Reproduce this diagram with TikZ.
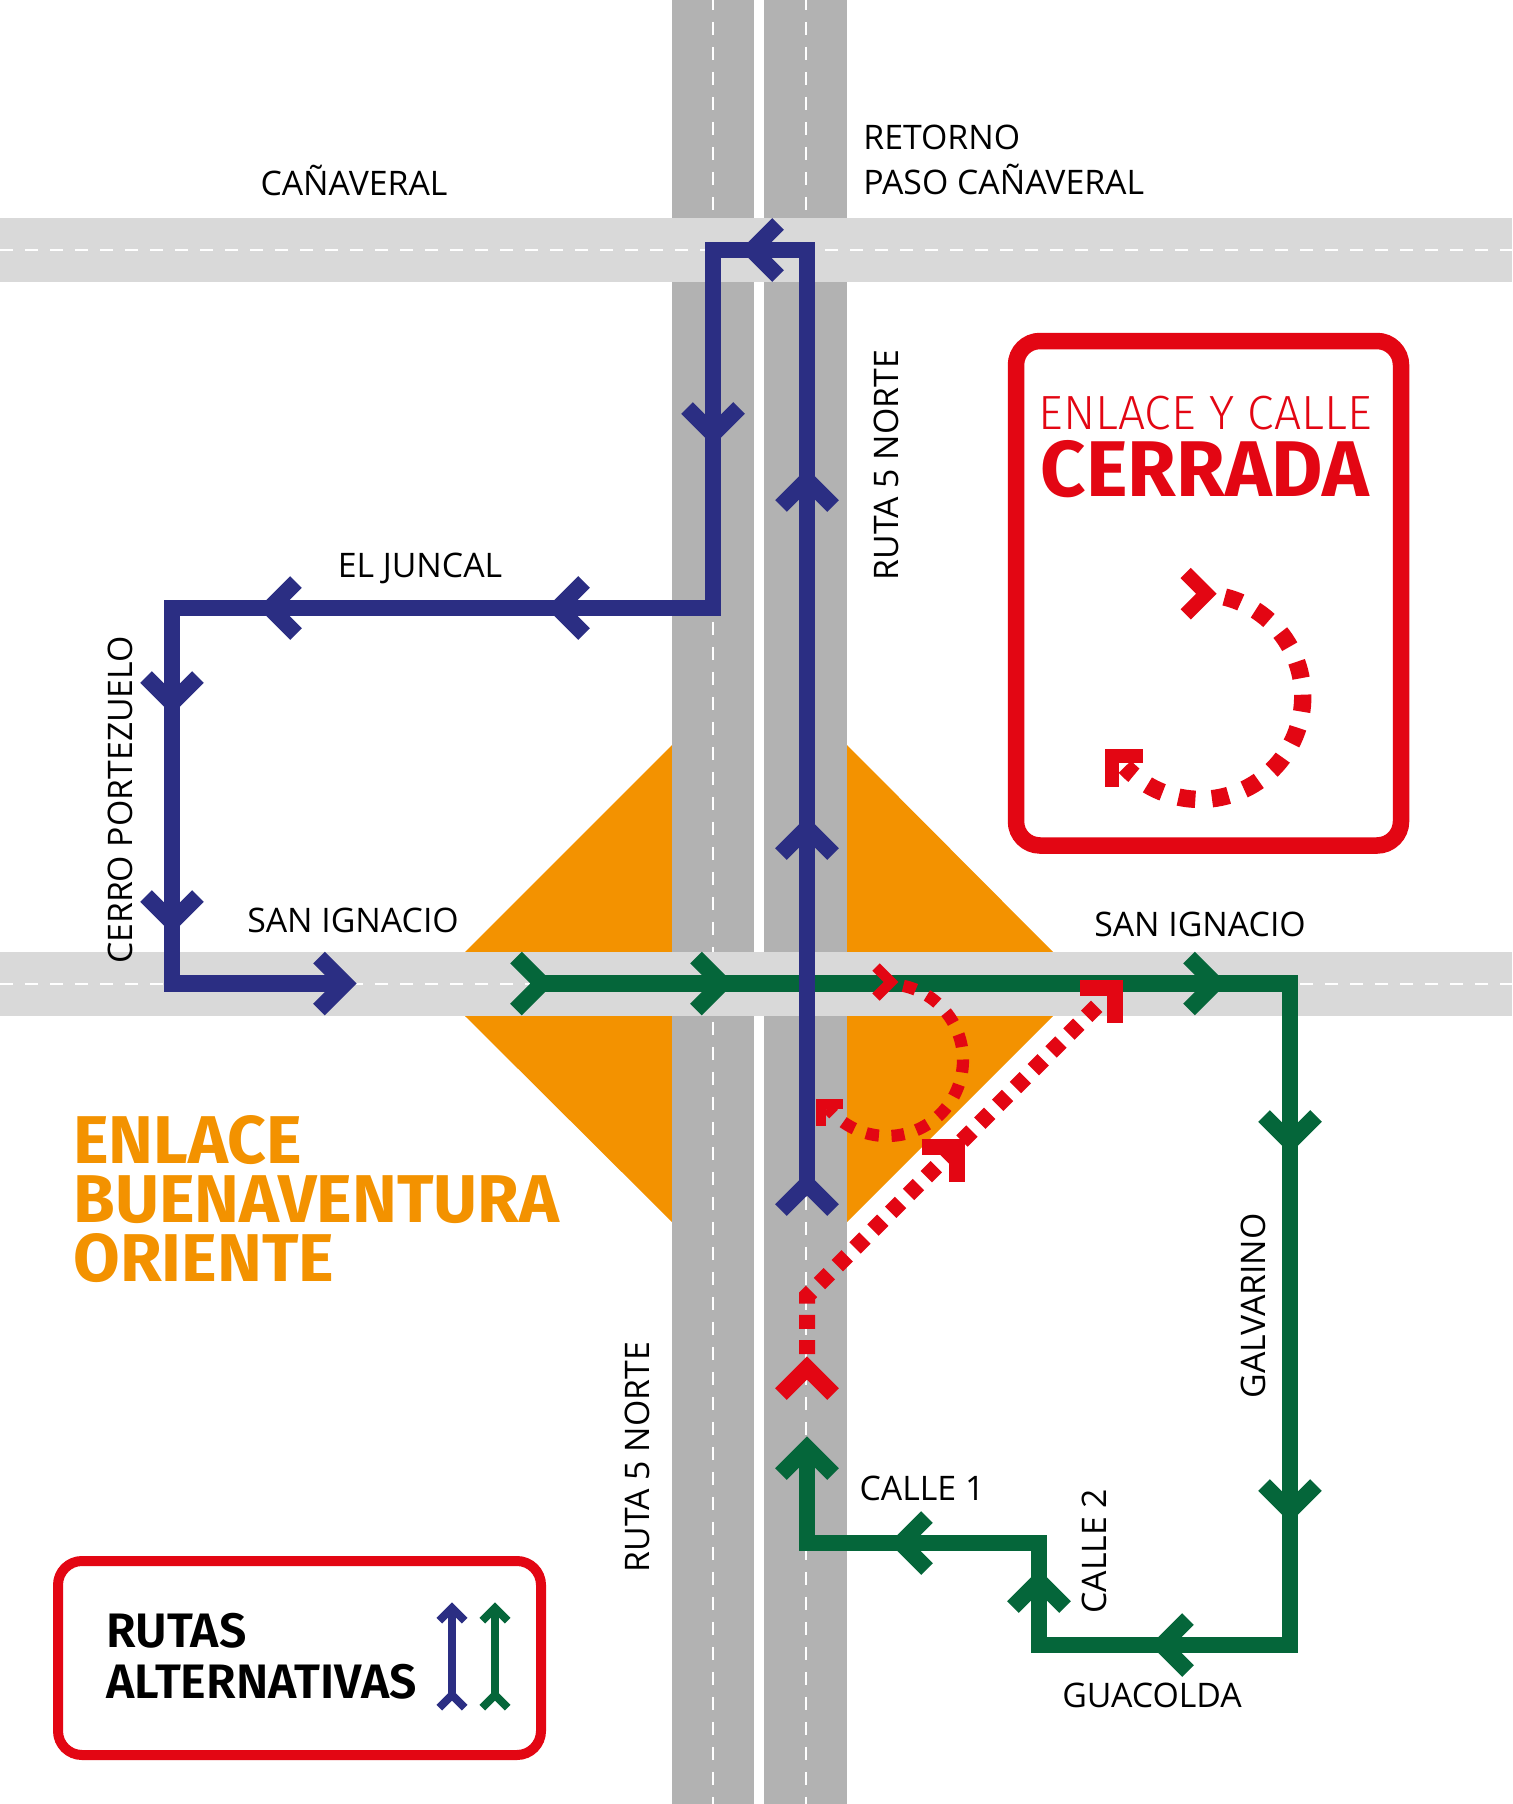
\documentclass[tikz,border=0pt]{standalone}
\usepackage{fontspec}
\setmainfont{Open Sans}
\newfontfamily\firabold{Fira Sans Bold}
\newfontfamily\firasemi{Fira Sans SemiBold}
\newfontfamily\firalight{Fira Sans Light}
\usetikzlibrary{positioning,calc}
\definecolor{roaddark}{HTML}{B2B2B2}
\definecolor{roadlight}{HTML}{D9D9D9}
\definecolor{linkorange}{HTML}{F39200}
\definecolor{routeblue}{HTML}{2B2E83}
\definecolor{routegreen}{HTML}{05663A}
\definecolor{closedred}{HTML}{E30613}
\tikzstyle{ROAD_MARK} = [draw=white, line width=1pt, dash pattern=on 6.5pt off 6pt]
\tikzstyle{ROUTE_BLUE} = [draw=routeblue, line width=8.25pt]
\tikzstyle{ROUTE_GREEN} = [draw=routegreen, line width=8.25pt]
\tikzstyle{ROUTE_RED} = [draw=closedred, line width=8pt, dash pattern=on 7pt off 5.6pt]
\tikzstyle{ARC_SMALL} = [draw=closedred, line width=6.1pt, dash pattern=on 6.5pt off 6.3pt]
\tikzstyle{ARC_BIG} = [draw=closedred, line width=8.7pt, dash pattern=on 8.5pt off 8.3pt]
\tikzstyle{TIP_BLUE} = [color=routeblue, line width=8.25pt]
\tikzstyle{TIP_GREEN} = [color=routegreen, line width=8.25pt]
\tikzstyle{TIP_RED} = [color=closedred, line width=8.25pt]
\tikzstyle{LABEL} = [inner sep=0pt, align=left, text=black, font=\fontsize{16.9}{22.5}\selectfont]
\tikzstyle{FRAME} = [draw=closedred, fill=white, rounded corners=12pt]
\tikzset{CHEV/.pic={\draw (-#1,-#1) -- (0,0) -- (-#1,#1);}}
\begin{document}
\begin{tikzpicture}[x=0.5pt, y=-0.5pt]
\useasboundingbox (0,0) rectangle (1512,1804);
% Roads
\fill [linkorange] (465,952) -- (672,745) -- (672,1222) -- (465,1016) -- cycle;
\fill [linkorange] (1053,952) -- (847,745) -- (847,1222) -- (1053,1016) -- cycle;
\fill [roaddark] (672,0) rectangle (754,1804);
\fill [roaddark] (764,0) rectangle (847,1804);
\draw [ROAD_MARK, dash phase=1.6pt] (712.5,0) -- (712.5,1804);
\draw [ROAD_MARK, dash phase=1.6pt] (805.5,0) -- (805.5,1804);
\fill [roadlight] (0,218) rectangle (1512,282);
\fill [roadlight] (0,952) rectangle (1512,1016);
\draw [ROAD_MARK] (0,250) -- (1512,250);
\draw [ROAD_MARK] (0,984) -- (1512,984);
% Place nodes
\node [LABEL] (canaveral) at (354,180) {CAÑAVERAL};
\node [LABEL, anchor=west] (retorno) at (863,160) {RETORNO\\PASO CAÑAVERAL};
\node [LABEL, rotate=90] (ruta_n) at (886,465) {RUTA 5 NORTE};
\node [LABEL] (juncal) at (420,568) {EL JUNCAL};
\node [LABEL, rotate=90] (cerro) at (120,800) {CERRO PORTEZUELO};
\node [LABEL] (ignacio_w) at (353,920) {SAN IGNACIO};
\node [LABEL] (ignacio_e) at (1200,924) {SAN IGNACIO};
\node [LABEL, rotate=90] (galvarino) at (1253,1306) {GALVARINO};
\node [LABEL, rotate=90] (ruta_s) at (637,1457) {RUTA 5 NORTE};
\node [LABEL] (calle1) at (922,1488) {CALLE 1};
\node [LABEL, rotate=90] (calle2) at (1094,1551) {CALLE 2};
\node [LABEL] (guacolda) at (1152,1695) {GUACOLDA};
\node [inner sep=0pt, anchor=west, align=left, text=linkorange, font=\firabold\fontsize{33.8}{29.7}\selectfont] (enlace) at (73,1199) {ENLACE\\BUENAVENTURA\\ORIENTE};
% Route points
\coordinate (b0) at (807,1184);
\coordinate (b1) at (807,250);
\coordinate (b2) at (713,250);
\coordinate (b3) at (713,608);
\coordinate (b4) at (172,608);
\coordinate (b5) at (172,983.5);
\coordinate (b6) at (345,983.5);
\coordinate (g0) at (542,983.5);
\coordinate (g1) at (1290,983.5);
\coordinate (g2) at (1290,1645);
\coordinate (g3) at (1039,1645);
\coordinate (g4) at (1039,1543);
\coordinate (g5) at (807,1543);
\coordinate (g6) at (807,1448);
\coordinate (r0) at (807,1354);
\coordinate (r1) at (807,1296);
\coordinate (r2) at (1101,1002);
\coordinate (s0) at (903.3,985.8);
\coordinate (k0) at (1224.7,597);
% LINES and ARROWS
\draw [ROUTE_GREEN] (g0) -- (g1) -- (g2) -- (g3) -- (g4) -- (g5) -- (g6);
\draw [ROUTE_BLUE] (b0) -- (b1) -- (b2) -- (b3) -- (b4) -- (b5) -- (b6);
\foreach \pos/\ang in {{807,480}/90, {807,828}/90, {807,1184}/90, {752,250}/180, {713,434}/-90, {558,608}/180, {270,608}/180, {172,703}/-90, {172,922}/-90, {345,983.5}/0}
  \pic [TIP_BLUE, rotate=\ang] at (\pos) {CHEV=26};
\foreach \pos/\ang in {{542,983.5}/0, {722,983.5}/0, {1215,983.5}/0, {1290,1142}/-90, {1290,1511}/-90, {1162,1645}/180, {1039,1581}/90, {901,1543}/180, {807,1448}/90}
  \pic [TIP_GREEN, rotate=\ang] at (\pos) {CHEV=26};
\draw [ROUTE_RED] (r0) -- (r1) -- (r2);
\pic [TIP_RED, rotate=90] at (807,1368) {CHEV=26};
\pic [TIP_RED, rotate=45] at (957,1147) {CHEV=25};
\pic [TIP_RED, rotate=45] at (1115,988) {CHEV=25};
\draw [ARC_SMALL] (s0) arc[start angle=77.6, end angle=-141, radius=38pt];
\pic [TIP_RED, line width=5.2pt] at (891,982) {CHEV=15};
\pic [TIP_RED, line width=5.2pt, rotate=135] at (821,1104) {CHEV=15.5};
% Closed box
\draw [FRAME, line width=8.25pt] (1016,341) rectangle (1401,845.5);
\node [inner sep=0pt, text=closedred, font=\firalight\fontsize{24}{24}\selectfont] (closed_a) at (1205,413) {ENLACE Y CALLE};
\node [inner sep=0pt, text=closedred, font=\firabold\fontsize{39.5}{39}\selectfont] (closed_b) at (1205,469) {CERRADA};
\draw [ARC_BIG] (k0) arc[start angle=76.1, end angle=-137, radius=51.35pt];
\pic [TIP_RED, line width=7.25pt] at (1206.4,593.7) {CHEV=20.7};
\pic [TIP_RED, line width=7pt, rotate=135] at (1112,756.3) {CHEV=21.7};
% Legend
\draw [FRAME, line width=5pt] (58,1561) rectangle (541,1755);
\node [inner sep=0pt, anchor=west, align=left, text=black, font=\firasemi\fontsize{24.2}{25.5}\selectfont] (rutas) at (106,1656) {RUTAS\\ALTERNATIVAS};
\coordinate (lb0) at (452,1695);
\coordinate (lb1) at (452,1608);
\coordinate (lg0) at (495,1695);
\coordinate (lg1) at (495,1608);
\draw [ROUTE_BLUE, line width=4pt] (lb0) -- (lb1);
\draw [ROUTE_GREEN, line width=4pt] (lg0) -- (lg1);
\foreach \yy in {1608,1695} {
  \pic [TIP_BLUE, line width=4pt, rotate=90] at (452,\yy) {CHEV=12.7};
  \pic [TIP_GREEN, line width=4pt, rotate=90] at (495,\yy) {CHEV=12.7};
}
\end{tikzpicture}
\end{document}
